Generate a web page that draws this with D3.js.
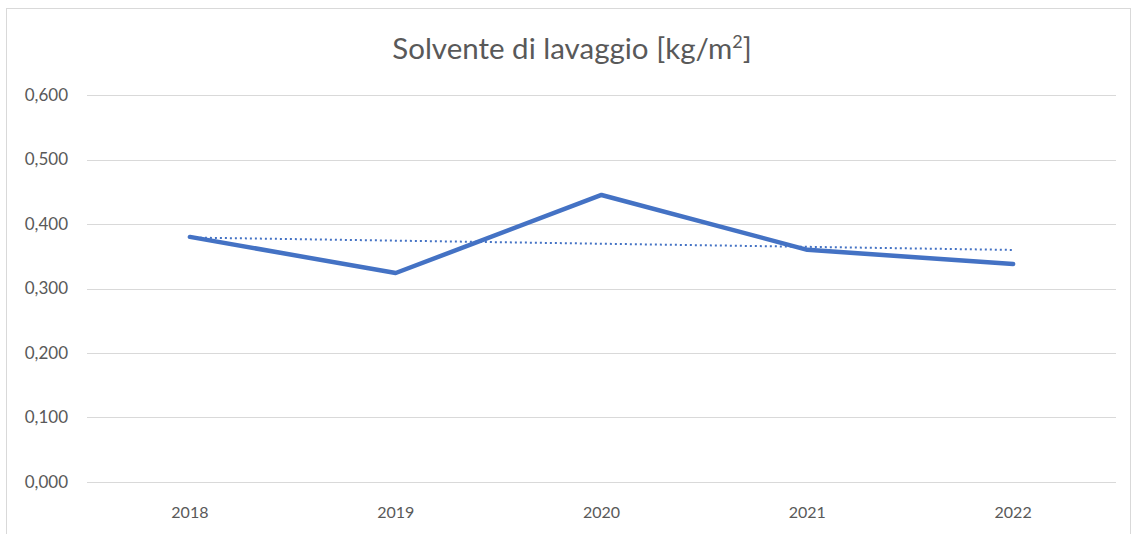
<!DOCTYPE html>
<html><head><meta charset="utf-8">
<script src="https://cdn.jsdelivr.net/npm/d3@7"></script>
<style>body{margin:0;background:#fff;}svg{display:block;}</style>
</head><body>
<svg id="c" width="1132" height="534"></svg>
<script>
const years = ["2018", "2019", "2020", "2021", "2022"];
const values = [0.380, 0.324, 0.445, 0.360, 0.338];
const yTicks = [0, 0.1, 0.2, 0.3, 0.4, 0.5, 0.6];
const titleMain = "Solvente di lavaggio [kg/m";
const titleSup = "2";

const svg = d3.select("#c");
const m = {left: 87, right: 1116, top: 95, bottom: 482};
const font = "Lato, 'Open Sans', sans-serif";
const grey = "#595959";

svg.append("rect").attr("x", 6.5).attr("y", 8.5).attr("width", 1124).attr("height", 540)
  .attr("fill", "#fff").attr("stroke", "#d9d9d9");

const x = d3.scaleBand().domain(years).range([m.left, m.right]);
const y = d3.scaleLinear().domain([0, 0.6]).range([m.bottom, m.top]);

// gridlines
svg.append("g").selectAll("line").data(yTicks).join("line")
  .attr("x1", m.left).attr("x2", m.right)
  .attr("y1", d => Math.round(y(d)) + 0.5).attr("y2", d => Math.round(y(d)) + 0.5)
  .attr("stroke", "#d9d9d9").attr("stroke-width", 1);

// y axis labels
const yAxis = d3.axisLeft(y).tickValues(yTicks).tickSize(0).tickPadding(0)
  .tickFormat(d => d3.format(".3f")(d).replace(".", ","));
const gy = svg.append("g").attr("transform", `translate(${m.left - 19},0)`).call(yAxis);
gy.select(".domain").remove();
gy.selectAll("text").attr("font-family", font).attr("font-size", 17).attr("fill", grey);

// x axis labels
const xAxis = d3.axisBottom(x).tickSize(0).tickPadding(0);
const gx = svg.append("g").attr("transform", `translate(0,${m.bottom + 25})`).call(xAxis);
gx.select(".domain").remove();
gx.selectAll("text").attr("font-family", font).attr("font-size", 16).attr("fill", grey);

const cx = d => x(d) + x.bandwidth() / 2;

// trendline (linear regression)
const n = values.length;
const xs = d3.range(n);
const mx = d3.mean(xs), my = d3.mean(values);
const slope = d3.sum(xs, i => (i - mx) * (values[i] - my)) / d3.sum(xs, i => (i - mx) ** 2);
const icpt = my - slope * mx;
const trend = xs.map(i => [cx(years[i]), y(icpt + slope * i)]);
svg.append("path").attr("d", d3.line()(trend))
  .attr("fill", "none").attr("stroke", "#4472C4").attr("stroke-width", 2)
  .attr("stroke-dasharray", "2,3");

// main line
svg.append("path").datum(values)
  .attr("d", d3.line().x((d, i) => cx(years[i])).y(d => y(d)))
  .attr("fill", "none").attr("stroke", "#4472C4").attr("stroke-width", 4.5)
  .attr("stroke-linejoin", "round").attr("stroke-linecap", "round");

// title
const t = svg.append("text").attr("x", 572).attr("y", 59).attr("text-anchor", "middle")
  .attr("font-family", font).attr("font-size", 29.5).attr("fill", grey);
t.append("tspan").text(titleMain);
t.append("tspan").attr("font-size", 18).attr("dy", -11).text(titleSup);
t.append("tspan").attr("dy", 11).text("]");
</script>
</body></html>
